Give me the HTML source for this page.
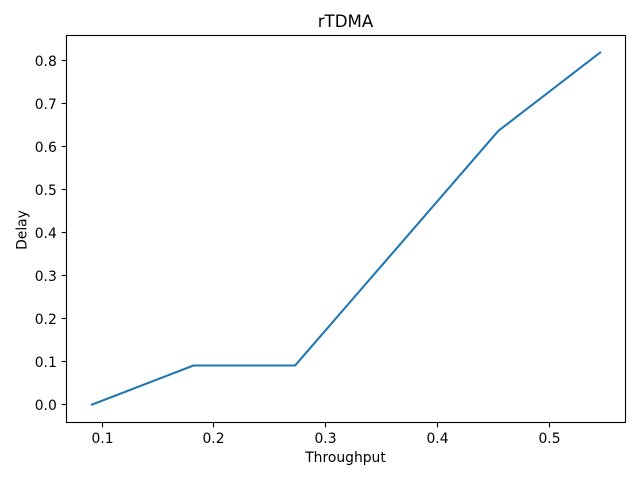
<!DOCTYPE html>
<html>
<head>
<meta charset="utf-8">
<title>rTDMA</title>
<style>
html,body{margin:0;padding:0;background:#fff;width:640px;height:480px;overflow:hidden}
svg{display:block}
text{font-family:"DejaVu Sans",sans-serif;fill:#000}
</style>
</head>
<body>
<svg id="chart" width="640" height="480" viewBox="0 0 640 480" xmlns="http://www.w3.org/2000/svg">
<rect x="0" y="0" width="640" height="480" fill="#fff"/>
<g id="ticks"></g>
<path id="series" fill="none" stroke="#1f77b4" stroke-width="2.08" stroke-linejoin="round" stroke-linecap="square"/>
<rect x="66.5" y="35.5" width="559" height="387" fill="none" stroke="#000" stroke-width="1.11"/>
<text x="345.5" y="27" font-size="16.67" text-anchor="middle">rTDMA</text>
<text x="345.5" y="462" font-size="13.89" text-anchor="middle">Throughput</text>
<text transform="translate(26.5 230) rotate(-90)" font-size="13.89" text-anchor="middle">Delay</text>
</svg>
<script>
const throughput = [0.0909, 0.1818, 0.2727, 0.3636, 0.4545, 0.5455];
const delay = [0, 0.0909, 0.0909, 0.3636, 0.6364, 0.8182];
const xTickLabels = ["0.1", "0.2", "0.3", "0.4", "0.5"];
const yTickLabels = ["0.0", "0.1", "0.2", "0.3", "0.4", "0.5", "0.6", "0.7", "0.8"];

const plot = { left: 66.5, right: 625.5, top: 35.0, bottom: 422.2 };
const frameBottom = 422.5;
const frameLeft = 66.5;
const NS = "http://www.w3.org/2000/svg";

function extent(values) {
  const lo = Math.min(...values);
  const hi = Math.max(...values);
  const pad = (hi - lo) * 0.05;
  return [lo - pad, hi + pad];
}
const xDomain = extent(throughput);
const yDomain = extent(delay);

function xScale(v) {
  return plot.left + (v - xDomain[0]) / (xDomain[1] - xDomain[0]) * (plot.right - plot.left);
}
function yScale(v) {
  return plot.bottom - (v - yDomain[0]) / (yDomain[1] - yDomain[0]) * (plot.bottom - plot.top);
}

const line = document.getElementById("series");
line.setAttribute("d", throughput.map((x, i) => (i ? "L" : "M") + xScale(x).toFixed(2) + " " + yScale(delay[i]).toFixed(2)).join(" "));

const ticks = document.getElementById("ticks");

xTickLabels.forEach((label) => {
  const px = Math.round(xScale(parseFloat(label)) - 0.5) + 0.5;
  const mark = document.createElementNS(NS, "line");
  
  
  mark.setAttribute("x1", px);
  mark.setAttribute("x2", px);
  mark.setAttribute("y1", frameBottom);
  mark.setAttribute("y2", frameBottom + 4.86);
  mark.setAttribute("stroke", "#000");
  mark.setAttribute("stroke-width", "1.11");
  ticks.appendChild(mark);
  const text = document.createElementNS(NS, "text");
  
  
  text.setAttribute("x", px);
  text.setAttribute("y", frameBottom + 20.5);
  text.setAttribute("font-size", "13.89");
  text.setAttribute("text-anchor", "middle");
  text.textContent = label;
  ticks.appendChild(text);
});

yTickLabels.forEach((label) => {
  const py = Math.round(yScale(parseFloat(label)) - 0.5) + 0.5;
  const mark = document.createElementNS(NS, "line");
  
  
  mark.setAttribute("x1", frameLeft - 4.86);
  mark.setAttribute("x2", frameLeft);
  mark.setAttribute("y1", py);
  mark.setAttribute("y2", py);
  mark.setAttribute("stroke", "#000");
  mark.setAttribute("stroke-width", "1.11");
  ticks.appendChild(mark);
  const text = document.createElementNS(NS, "text");
  
  
  text.setAttribute("x", frameLeft - 9.7);
  text.setAttribute("y", py + 5.5);
  text.setAttribute("font-size", "13.89");
  text.setAttribute("text-anchor", "end");
  text.textContent = label;
  ticks.appendChild(text);
});
</script>
</body>
</html>
